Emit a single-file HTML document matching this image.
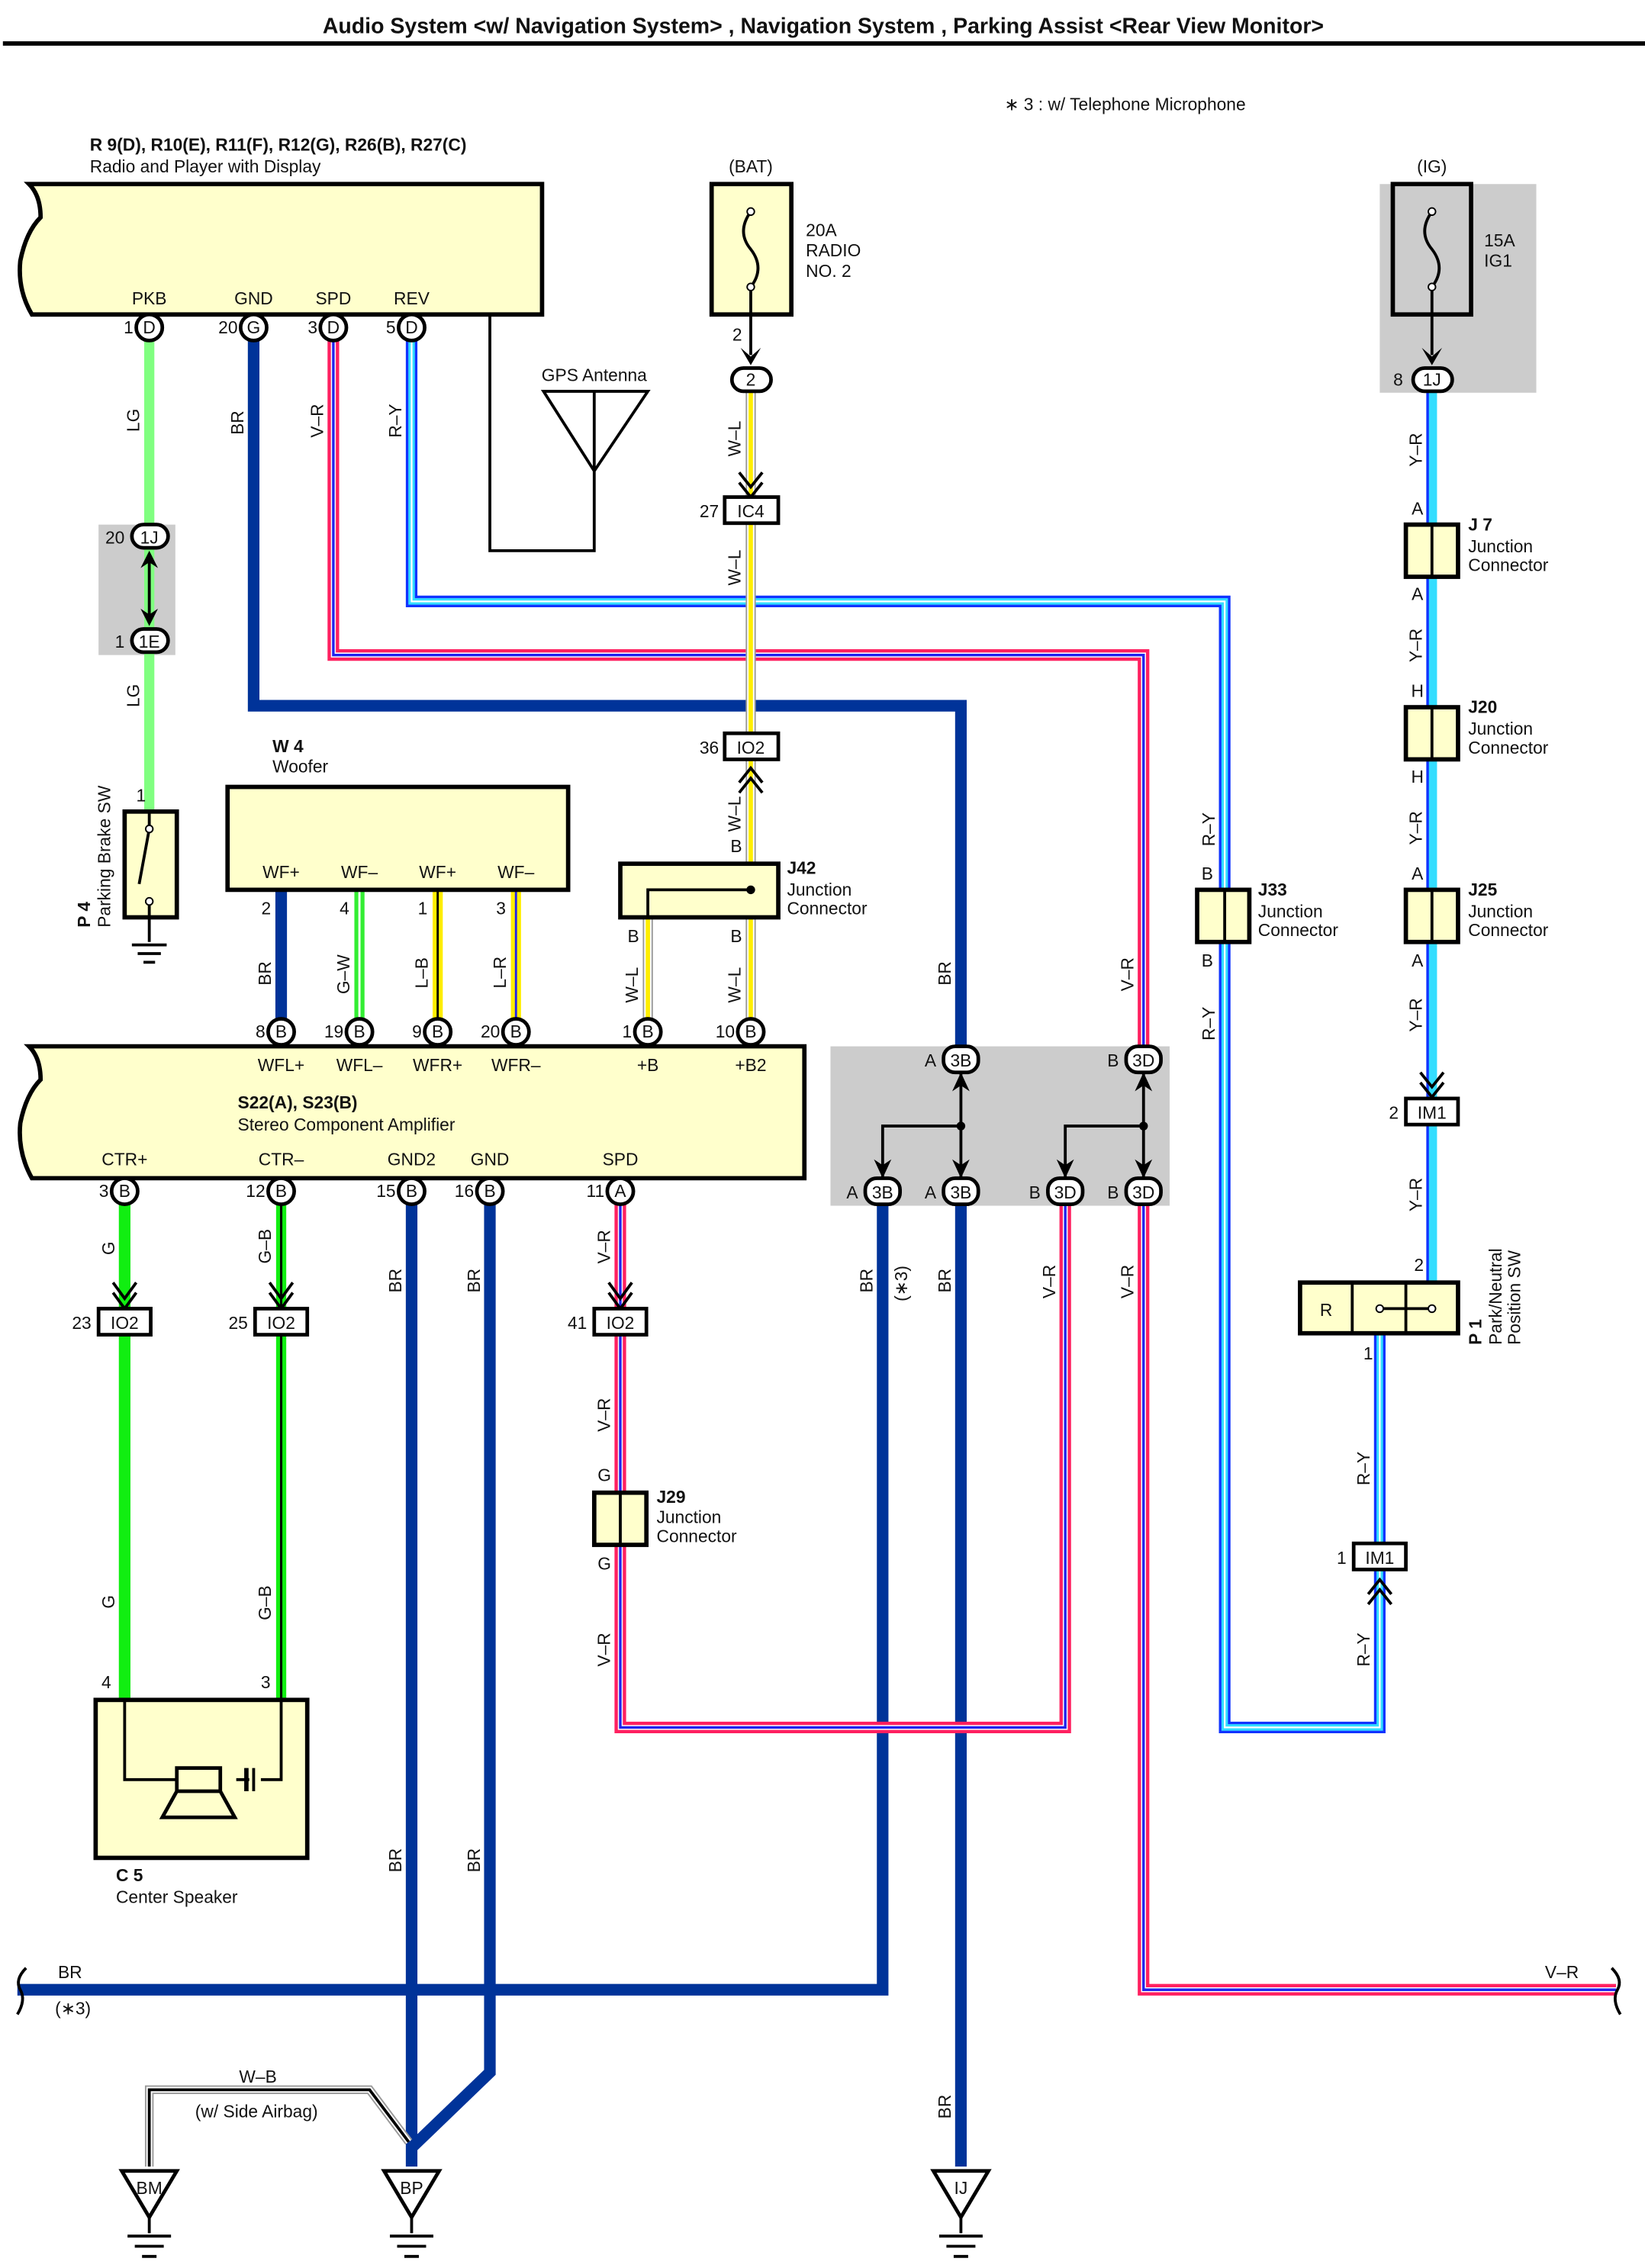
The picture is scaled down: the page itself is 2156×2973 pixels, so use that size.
<!DOCTYPE html>
<html><head><meta charset="utf-8"><style>
html,body{margin:0;padding:0;background:#fff}
svg{display:block}
text{font-family:"Liberation Sans",sans-serif;fill:#111}
.br{stroke:#003399;stroke-width:8;fill:none}
.vr1{stroke:#ff2060;stroke-width:8;fill:none}.vr2{stroke:#fff;stroke-width:3.4;fill:none}.vr3{stroke:#2222ee;stroke-width:1.8;fill:none}
.ry1{stroke:#1133ff;stroke-width:8;fill:none}.ry2{stroke:#33ddff;stroke-width:4.5;fill:none}.ry3{stroke:#fff;stroke-width:1.2;fill:none}
.yr1{stroke:#33ddff;stroke-width:7;fill:none}.yr2{stroke:#1133ff;stroke-width:1.8;fill:none}
.wl1{stroke:#999;stroke-width:7;fill:none}.wl2{stroke:#fff;stroke-width:5;fill:none}.wl3{stroke:#ffee00;stroke-width:3;fill:none}
.ln{stroke:#000;stroke-width:2;fill:none}
.box{fill:#ffffcc;stroke:#000;stroke-width:3}
.pin{fill:#fff;stroke:#000;stroke-width:2.5}
.s{font-size:12px}.b{font-weight:bold}
</style></head><body>
<svg width="2156" height="2973" viewBox="0 0 1135 1565" preserveAspectRatio="none" xmlns="http://www.w3.org/2000/svg">
<text x="568" y="23" text-anchor="middle" font-size="15" font-weight="bold">Audio System &lt;w/ Navigation System&gt; , Navigation System , Parking Assist &lt;Rear View Monitor&gt;</text>
<line x1="2" y1="30" x2="1135" y2="30" stroke="#000" stroke-width="3"/>
<text x="693" y="76" class="s">∗ 3 : w/ Telephone Microphone</text>

<rect x="68" y="362" width="53" height="90" fill="#cccccc"/>
<rect x="952" y="127" width="108" height="144" fill="#cccccc"/>
<rect x="573" y="722" width="234" height="110" fill="#cccccc"/>

<path class="br" d="M175,234 V487 H663 V722 M609,830 V1373 H12 M663,830 V1495 M284,830 V1495 M338,830 V1430 L284,1482 M194,614 V704"/>
<g><path class="vr1" d="M230,234 V452 H789 V722 M428,830 V1192 H735 V830 M789,830 V1373 H1115"/><path class="vr2" d="M230,234 V452 H789 V722 M428,830 V1192 H735 V830 M789,830 V1373 H1115"/><path class="vr3" d="M230,234 V452 H789 V722 M428,830 V1192 H735 V830 M789,830 V1373 H1115"/></g>
<g><path class="ry1" d="M284,234 V415 H845 V614 M845,650 V1192 H952 V1082 M952,920 V1066"/><path class="ry2" d="M284,234 V415 H845 V614 M845,650 V1192 H952 V1082 M952,920 V1066"/><path class="ry3" d="M284,234 V415 H845 V614 M845,650 V1192 H952 V1082 M952,920 V1066"/></g>
<g><path class="yr1" d="M988,270 V885"/><path class="yr2" d="M985,270 V885"/></g>
<g><path class="wl1" d="M518,270 V596 M518,633 V704 M447,633 V704"/><path class="wl2" d="M518,270 V596 M518,633 V704 M447,633 V704"/><path class="wl3" d="M518,270 V596 M518,633 V704 M447,633 V704"/></g>
<path d="M103,234 V560" stroke="#80ff80" stroke-width="7" fill="none"/>
<path d="M248,614 V704" stroke="#33ee33" stroke-width="7" fill="none"/><path d="M248,614 V704" stroke="#fff" stroke-width="1.5"/>
<path d="M302,614 V704" stroke="#ffee00" stroke-width="7" fill="none"/><path d="M302,614 V704" stroke="#000" stroke-width="1.5"/>
<path d="M356,614 V704" stroke="#ffee00" stroke-width="7" fill="none"/><path d="M356,614 V704" stroke="#2222ee" stroke-width="1.5"/>
<path d="M86,830 V1173" stroke="#11ee11" stroke-width="8" fill="none"/>
<path d="M194,830 V1173" stroke="#11ee11" stroke-width="7" fill="none"/><path d="M194,830 V1173" stroke="#000" stroke-width="1.6"/>
<path d="M103,1495 V1442 H255 L282,1478" stroke="#999" stroke-width="6" fill="none"/><path d="M103,1495 V1442 H255 L282,1478" stroke="#fff" stroke-width="4" fill="none"/><path d="M103,1495 V1442 H255 L282,1478" stroke="#000" stroke-width="2" fill="none"/>

<path class="box" d="M20,127 H374 V217 H22 Q12,200 14,180 Q18,160 28,150 Q28,135 20,127 Z"/>
<text x="62" y="104" class="s b">R 9(D), R10(E), R11(F), R12(G), R26(B), R27(C)</text>
<text x="62" y="119" class="s">Radio and Player with Display</text>
<text x="103" y="210" class="s" text-anchor="middle">PKB</text><text x="175" y="210" class="s" text-anchor="middle">GND</text><text x="230" y="210" class="s" text-anchor="middle">SPD</text><text x="284" y="210" class="s" text-anchor="middle">REV</text>
<path class="ln" d="M338,217 V380 H410 V270 M375,270 H447 L410,325 Z"/>
<text x="410" y="263" class="s" text-anchor="middle">GPS Antenna</text>

<rect class="box" x="491" y="127" width="55" height="90"/>
<path class="ln" d="M518,146 Q508,160 518,172 Q528,185 518,198 V245" /><circle cx="518" cy="146" r="2.5" fill="#fff" stroke="#000"/><circle cx="518" cy="198" r="2.5" fill="#fff" stroke="#000"/>
<path d="M511,240 L518,252 L525,240 L518,246Z" fill="#000"/>
<text x="518" y="119" class="s" text-anchor="middle">(BAT)</text>
<text x="556" y="163" class="s">20A</text><text x="556" y="177" class="s">RADIO</text><text x="556" y="191" class="s">NO. 2</text>
<text x="512" y="235" class="s" text-anchor="end">2</text>
<rect class="pin" x="505" y="254" width="27" height="16" rx="8"/><text x="518" y="266" class="s" text-anchor="middle">2</text>
<path class="ln" d="M510,326 L518,336 L526,326 M510,333 L518,343 L526,333"/>
<rect x="500" y="343" width="37" height="18" fill="#fff" stroke="#000" stroke-width="2.5"/><text x="518" y="357" class="s" text-anchor="middle">IC4</text><text x="496" y="357" class="s" text-anchor="end">27</text>
<rect x="500" y="506" width="37" height="18" fill="#fff" stroke="#000" stroke-width="2.5"/><text x="518" y="520" class="s" text-anchor="middle">IO2</text><text x="496" y="520" class="s" text-anchor="end">36</text>
<path class="ln" d="M510,540 L518,530 L526,540 M510,547 L518,537 L526,547"/>
<rect class="box" x="428" y="596" width="109" height="37"/>
<path class="ln" d="M518,614 H447 V633"/><circle cx="518" cy="614" r="3" fill="#000"/>
<text x="543" y="603" class="s b">J42</text><text x="543" y="618" class="s">Junction</text><text x="543" y="631" class="s">Connector</text>
<text x="508" y="588" class="s" text-anchor="middle">B</text><text x="437" y="650" class="s" text-anchor="middle">B</text><text x="508" y="650" class="s" text-anchor="middle">B</text>

<rect class="pin" x="91" y="362" width="25" height="16" rx="8"/><text x="103" y="375" class="s" text-anchor="middle">1J</text><text x="86" y="375" class="s" text-anchor="end">20</text>
<rect class="pin" x="91" y="434" width="25" height="16" rx="8"/><text x="103" y="447" class="s" text-anchor="middle">1E</text><text x="86" y="447" class="s" text-anchor="end">1</text>
<path d="M103,382 V430" stroke="#000" stroke-width="2"/><path d="M97,392 L103,380 L109,392 L103,388Z M97,420 L103,432 L109,420 L103,424Z" fill="#000"/>
<rect class="box" x="86" y="560" width="36" height="73"/>
<path class="ln" d="M103,560 V572 L96,610 M103,622 V633"/><circle cx="103" cy="572" r="2.5" fill="#fff" stroke="#000"/><circle cx="103" cy="622" r="2.5" fill="#fff" stroke="#000"/>
<path class="ln" d="M103,633 V650 M91,652 H115 M95,658 H111 M99,664 H107"/>
<text x="94" y="553" class="s">1</text>
<text transform="translate(62,640) rotate(-90)" class="s b">P 4</text>
<text transform="translate(76,640) rotate(-90)" class="s">Parking Brake SW</text>

<rect class="box" x="157" y="543" width="235" height="71"/>
<text x="188" y="519" class="s b">W 4</text><text x="188" y="533" class="s">Woofer</text>
<text x="194" y="606" class="s" text-anchor="middle">WF+</text><text x="248" y="606" class="s" text-anchor="middle">WF–</text><text x="302" y="606" class="s" text-anchor="middle">WF+</text><text x="356" y="606" class="s" text-anchor="middle">WF–</text>
<text x="187" y="631" class="s" text-anchor="end">2</text><text x="241" y="631" class="s" text-anchor="end">4</text><text x="295" y="631" class="s" text-anchor="end">1</text><text x="349" y="631" class="s" text-anchor="end">3</text>

<path class="box" d="M20,722 H555 V813 H22 Q12,795 14,775 Q18,755 28,745 Q28,730 20,722 Z"/>
<text x="164" y="765" class="s b">S22(A), S23(B)</text><text x="164" y="780" class="s">Stereo Component Amplifier</text>
<g class="s" text-anchor="middle">
<text x="194" y="739">WFL+</text><text x="248" y="739">WFL–</text><text x="302" y="739">WFR+</text><text x="356" y="739">WFR–</text><text x="447" y="739">+B</text><text x="518" y="739">+B2</text>
<text x="86" y="804">CTR+</text><text x="194" y="804">CTR–</text><text x="284" y="804">GND2</text><text x="338" y="804">GND</text><text x="428" y="804">SPD</text>
</g>

<rect class="box" x="66" y="1173" width="146" height="109"/>
<path class="ln" d="M86,1173 V1228 H122 M194,1173 V1228 H180 M175,1220 V1236 M163,1228 H172"/>
<rect x="122" y="1220" width="30" height="16" fill="none" stroke="#000" stroke-width="2.5"/>
<path d="M122,1236 L112,1254 H162 L152,1236" fill="none" stroke="#000" stroke-width="2.5"/>
<path d="M170,1220 V1236" stroke="#000" stroke-width="3"/>
<text x="70" y="1165" class="s">4</text><text x="180" y="1165" class="s">3</text>
<text x="80" y="1298" class="s b">C 5</text><text x="80" y="1313" class="s">Center Speaker</text>

<path class="ln" d="M78,885 L86,896 L94,885 M78,892 L86,903 L94,892 M186,885 L194,896 L202,885 M186,892 L194,903 L202,892 M420,885 L428,896 L436,885 M420,892 L428,903 L436,892"/>
<rect x="68" y="903" width="36" height="18" fill="#fff" stroke="#000" stroke-width="2.5"/><text x="86" y="917" class="s" text-anchor="middle">IO2</text><text x="63" y="917" class="s" text-anchor="end">23</text>
<rect x="176" y="903" width="36" height="18" fill="#fff" stroke="#000" stroke-width="2.5"/><text x="194" y="917" class="s" text-anchor="middle">IO2</text><text x="171" y="917" class="s" text-anchor="end">25</text>
<rect x="410" y="903" width="36" height="18" fill="#fff" stroke="#000" stroke-width="2.5"/><text x="428" y="917" class="s" text-anchor="middle">IO2</text><text x="405" y="917" class="s" text-anchor="end">41</text>
<rect class="box" x="410" y="1030" width="36" height="36"/><path class="ln" d="M428,1030 V1066"/>
<text x="417" y="1022" class="s" text-anchor="middle">G</text><text x="417" y="1083" class="s" text-anchor="middle">G</text>
<text x="453" y="1037" class="s b">J29</text><text x="453" y="1051" class="s">Junction</text><text x="453" y="1064" class="s">Connector</text>

<path class="ln" d="M663,741 V812 M663,777 H609 V812 M789,741 V812 M789,777 H735 V812"/>
<circle cx="663" cy="777" r="3" fill="#000"/><circle cx="789" cy="777" r="3" fill="#000"/>
<path d="M657,753 L663,740 L669,753 L663,749Z M783,753 L789,740 L795,753 L789,749Z M603,800 L609,813 L615,800 L609,804Z M657,800 L663,813 L669,800 L663,804Z M729,800 L735,813 L741,800 L735,804Z M783,800 L789,813 L795,800 L789,804Z" fill="#000"/>

<rect class="box" x="826" y="614" width="36" height="36"/><path class="ln" d="M845,614 V650"/>
<text x="833" y="607" class="s" text-anchor="middle">B</text><text x="833" y="667" class="s" text-anchor="middle">B</text>
<text x="868" y="618" class="s b">J33</text><text x="868" y="633" class="s">Junction</text><text x="868" y="646" class="s">Connector</text>
<rect class="box" x="970" y="362" width="36" height="36"/><path class="ln" d="M988,362 V398"/>
<text x="978" y="355" class="s" text-anchor="middle">A</text><text x="978" y="414" class="s" text-anchor="middle">A</text>
<text x="1013" y="366" class="s b">J 7</text><text x="1013" y="381" class="s">Junction</text><text x="1013" y="394" class="s">Connector</text>
<rect class="box" x="970" y="488" width="36" height="36"/><path class="ln" d="M988,488 V524"/>
<text x="978" y="481" class="s" text-anchor="middle">H</text><text x="978" y="540" class="s" text-anchor="middle">H</text>
<text x="1013" y="492" class="s b">J20</text><text x="1013" y="507" class="s">Junction</text><text x="1013" y="520" class="s">Connector</text>
<rect class="box" x="970" y="614" width="36" height="36"/><path class="ln" d="M988,614 V650"/>
<text x="978" y="607" class="s" text-anchor="middle">A</text><text x="978" y="667" class="s" text-anchor="middle">A</text>
<text x="1013" y="618" class="s b">J25</text><text x="1013" y="633" class="s">Junction</text><text x="1013" y="646" class="s">Connector</text>
<rect x="961" y="127" width="54" height="90" fill="none" stroke="#000" stroke-width="3"/>
<path class="ln" d="M988,146 Q978,160 988,172 Q998,185 988,198 V245"/><circle cx="988" cy="146" r="2.5" fill="#fff" stroke="#000"/><circle cx="988" cy="198" r="2.5" fill="#fff" stroke="#000"/>
<path d="M981,240 L988,252 L995,240 L988,246Z" fill="#000"/>
<text x="988" y="119" class="s" text-anchor="middle">(IG)</text>
<text x="1024" y="170" class="s">15A</text><text x="1024" y="184" class="s">IG1</text>
<rect class="pin" x="975" y="254" width="27" height="16" rx="8"/><text x="988" y="266" class="s" text-anchor="middle">1J</text><text x="968" y="266" class="s" text-anchor="end">8</text>
<path class="ln" d="M980,740 L988,750 L996,740 M980,747 L988,757 L996,747"/>
<rect x="970" y="758" width="36" height="18" fill="#fff" stroke="#000" stroke-width="2.5"/><text x="988" y="772" class="s" text-anchor="middle">IM1</text><text x="965" y="772" class="s" text-anchor="end">2</text>
<rect x="934" y="1065" width="36" height="18" fill="#fff" stroke="#000" stroke-width="2.5"/><text x="952" y="1079" class="s" text-anchor="middle">IM1</text><text x="929" y="1079" class="s" text-anchor="end">1</text>
<path class="ln" d="M944,1100 L952,1090 L960,1100 M944,1107 L952,1097 L960,1107"/>
<rect class="box" x="897" y="885" width="109" height="35"/><path class="ln" d="M933,885 V920 M970,885 V920 M952,903 H988"/>
<circle cx="952" cy="903" r="2.5" fill="#fff" stroke="#000"/><circle cx="988" cy="903" r="2.5" fill="#fff" stroke="#000"/>
<text x="915" y="908" class="s" text-anchor="middle">R</text>
<text x="979" y="877" class="s" text-anchor="middle">2</text><text x="944" y="938" class="s" text-anchor="middle">1</text>
<text transform="translate(1022,928) rotate(-90)" class="s b">P 1</text>
<text transform="translate(1036,928) rotate(-90)" class="s">Park/Neutral</text>
<text transform="translate(1049,928) rotate(-90)" class="s">Position SW</text>

<g fill="#fff" stroke="#000" stroke-width="2.5">
<path d="M84,1498 H122 L103,1530 Z"/><path d="M265,1498 H303 L284,1530 Z"/><path d="M644,1498 H682 L663,1530 Z"/>
</g>
<path class="ln" d="M103,1530 V1541 M88,1543 H118 M93,1550 H113 M98,1557 H108 M284,1530 V1541 M269,1543 H299 M274,1550 H294 M279,1557 H289 M663,1530 V1541 M648,1543 H678 M653,1550 H673 M658,1557 H668"/>
<text x="103" y="1514" class="s" text-anchor="middle">BM</text><text x="284" y="1514" class="s" text-anchor="middle">BP</text><text x="663" y="1514" class="s" text-anchor="middle">IJ</text>
<text x="178" y="1437" class="s" text-anchor="middle">W–B</text><text x="177" y="1461" class="s" text-anchor="middle">(w/ Side Airbag)</text>
<path class="ln" d="M18,1358 Q10,1366 14,1373 Q18,1380 12,1390"/>
<path class="ln" d="M1112,1358 Q1120,1366 1116,1373 Q1112,1380 1118,1390"/>
<text x="40" y="1365" class="s">BR</text><text x="38" y="1390" class="s">(∗3)</text><text x="1066" y="1365" class="s">V–R</text>

<g class="pin"><circle cx="103" cy="226" r="9"/><circle cx="175" cy="226" r="9"/><circle cx="230" cy="226" r="9"/><circle cx="284" cy="226" r="9"/>
<circle cx="194" cy="712" r="9"/><circle cx="248" cy="712" r="9"/><circle cx="302" cy="712" r="9"/><circle cx="356" cy="712" r="9"/><circle cx="447" cy="712" r="9"/><circle cx="518" cy="712" r="9"/>
<circle cx="86" cy="822" r="9"/><circle cx="194" cy="822" r="9"/><circle cx="284" cy="822" r="9"/><circle cx="338" cy="822" r="9"/><circle cx="428" cy="822" r="9"/>
<rect x="651" y="722" width="24" height="18" rx="8"/><rect x="777" y="722" width="24" height="18" rx="8"/>
<rect x="597" y="813" width="24" height="18" rx="8"/><rect x="651" y="813" width="24" height="18" rx="8"/><rect x="723" y="813" width="24" height="18" rx="8"/><rect x="777" y="813" width="24" height="18" rx="8"/></g>
<g class="s" text-anchor="middle">
<text x="103" y="230">D</text><text x="175" y="230">G</text><text x="230" y="230">D</text><text x="284" y="230">D</text>
<text x="194" y="716">B</text><text x="248" y="716">B</text><text x="302" y="716">B</text><text x="356" y="716">B</text><text x="447" y="716">B</text><text x="518" y="716">B</text>
<text x="86" y="826">B</text><text x="194" y="826">B</text><text x="284" y="826">B</text><text x="338" y="826">B</text><text x="428" y="826">A</text>
<text x="663" y="736">3B</text><text x="789" y="736">3D</text><text x="609" y="827">3B</text><text x="663" y="827">3B</text><text x="735" y="827">3D</text><text x="789" y="827">3D</text>
</g>
<g class="s" text-anchor="end">
<text x="92" y="230">1</text><text x="164" y="230">20</text><text x="219" y="230">3</text><text x="273" y="230">5</text>
<text x="183" y="716">8</text><text x="237" y="716">19</text><text x="291" y="716">9</text><text x="345" y="716">20</text><text x="436" y="716">1</text><text x="507" y="716">10</text>
<text x="75" y="826">3</text><text x="183" y="826">12</text><text x="273" y="826">15</text><text x="327" y="826">16</text><text x="417" y="826">11</text>
<text x="646" y="736">A</text><text x="772" y="736">B</text><text x="592" y="827">A</text><text x="646" y="827">A</text><text x="718" y="827">B</text><text x="772" y="827">B</text>
</g>

<g class="s">
<text transform="translate(96,298) rotate(-90)">LG</text><text transform="translate(96,488) rotate(-90)">LG</text>
<text transform="translate(168,300) rotate(-90)">BR</text><text transform="translate(223,302) rotate(-90)">V–R</text><text transform="translate(277,302) rotate(-90)">R–Y</text>
<text transform="translate(511,315) rotate(-90)">W–L</text><text transform="translate(511,404) rotate(-90)">W–L</text><text transform="translate(511,574) rotate(-90)">W–L</text>
<text transform="translate(187,680) rotate(-90)">BR</text><text transform="translate(241,686) rotate(-90)">G–W</text><text transform="translate(295,682) rotate(-90)">L–B</text><text transform="translate(349,682) rotate(-90)">L–R</text>
<text transform="translate(440,692) rotate(-90)">W–L</text><text transform="translate(511,692) rotate(-90)">W–L</text>
<text transform="translate(656,680) rotate(-90)">BR</text><text transform="translate(782,684) rotate(-90)">V–R</text>
<text transform="translate(838,584) rotate(-90)">R–Y</text><text transform="translate(838,718) rotate(-90)">R–Y</text>
<text transform="translate(981,322) rotate(-90)">Y–R</text><text transform="translate(981,457) rotate(-90)">Y–R</text><text transform="translate(981,583) rotate(-90)">Y–R</text><text transform="translate(981,712) rotate(-90)">Y–R</text><text transform="translate(981,836) rotate(-90)">Y–R</text>
<text transform="translate(945,1025) rotate(-90)">R–Y</text><text transform="translate(945,1150) rotate(-90)">R–Y</text>
<text transform="translate(79,866) rotate(-90)">G</text><text transform="translate(79,1110) rotate(-90)">G</text>
<text transform="translate(187,872) rotate(-90)">G–B</text><text transform="translate(187,1118) rotate(-90)">G–B</text>
<text transform="translate(277,892) rotate(-90)">BR</text><text transform="translate(331,892) rotate(-90)">BR</text>
<text transform="translate(277,1292) rotate(-90)">BR</text><text transform="translate(331,1292) rotate(-90)">BR</text>
<text transform="translate(421,872) rotate(-90)">V–R</text><text transform="translate(421,988) rotate(-90)">V–R</text><text transform="translate(421,1150) rotate(-90)">V–R</text>
<text transform="translate(602,892) rotate(-90)">BR</text><text transform="translate(626,898) rotate(-90)">(∗3)</text><text transform="translate(656,892) rotate(-90)">BR</text>
<text transform="translate(728,896) rotate(-90)">V–R</text><text transform="translate(782,896) rotate(-90)">V–R</text>
<text transform="translate(656,1462) rotate(-90)">BR</text>
</g>
</svg>
</body></html>
